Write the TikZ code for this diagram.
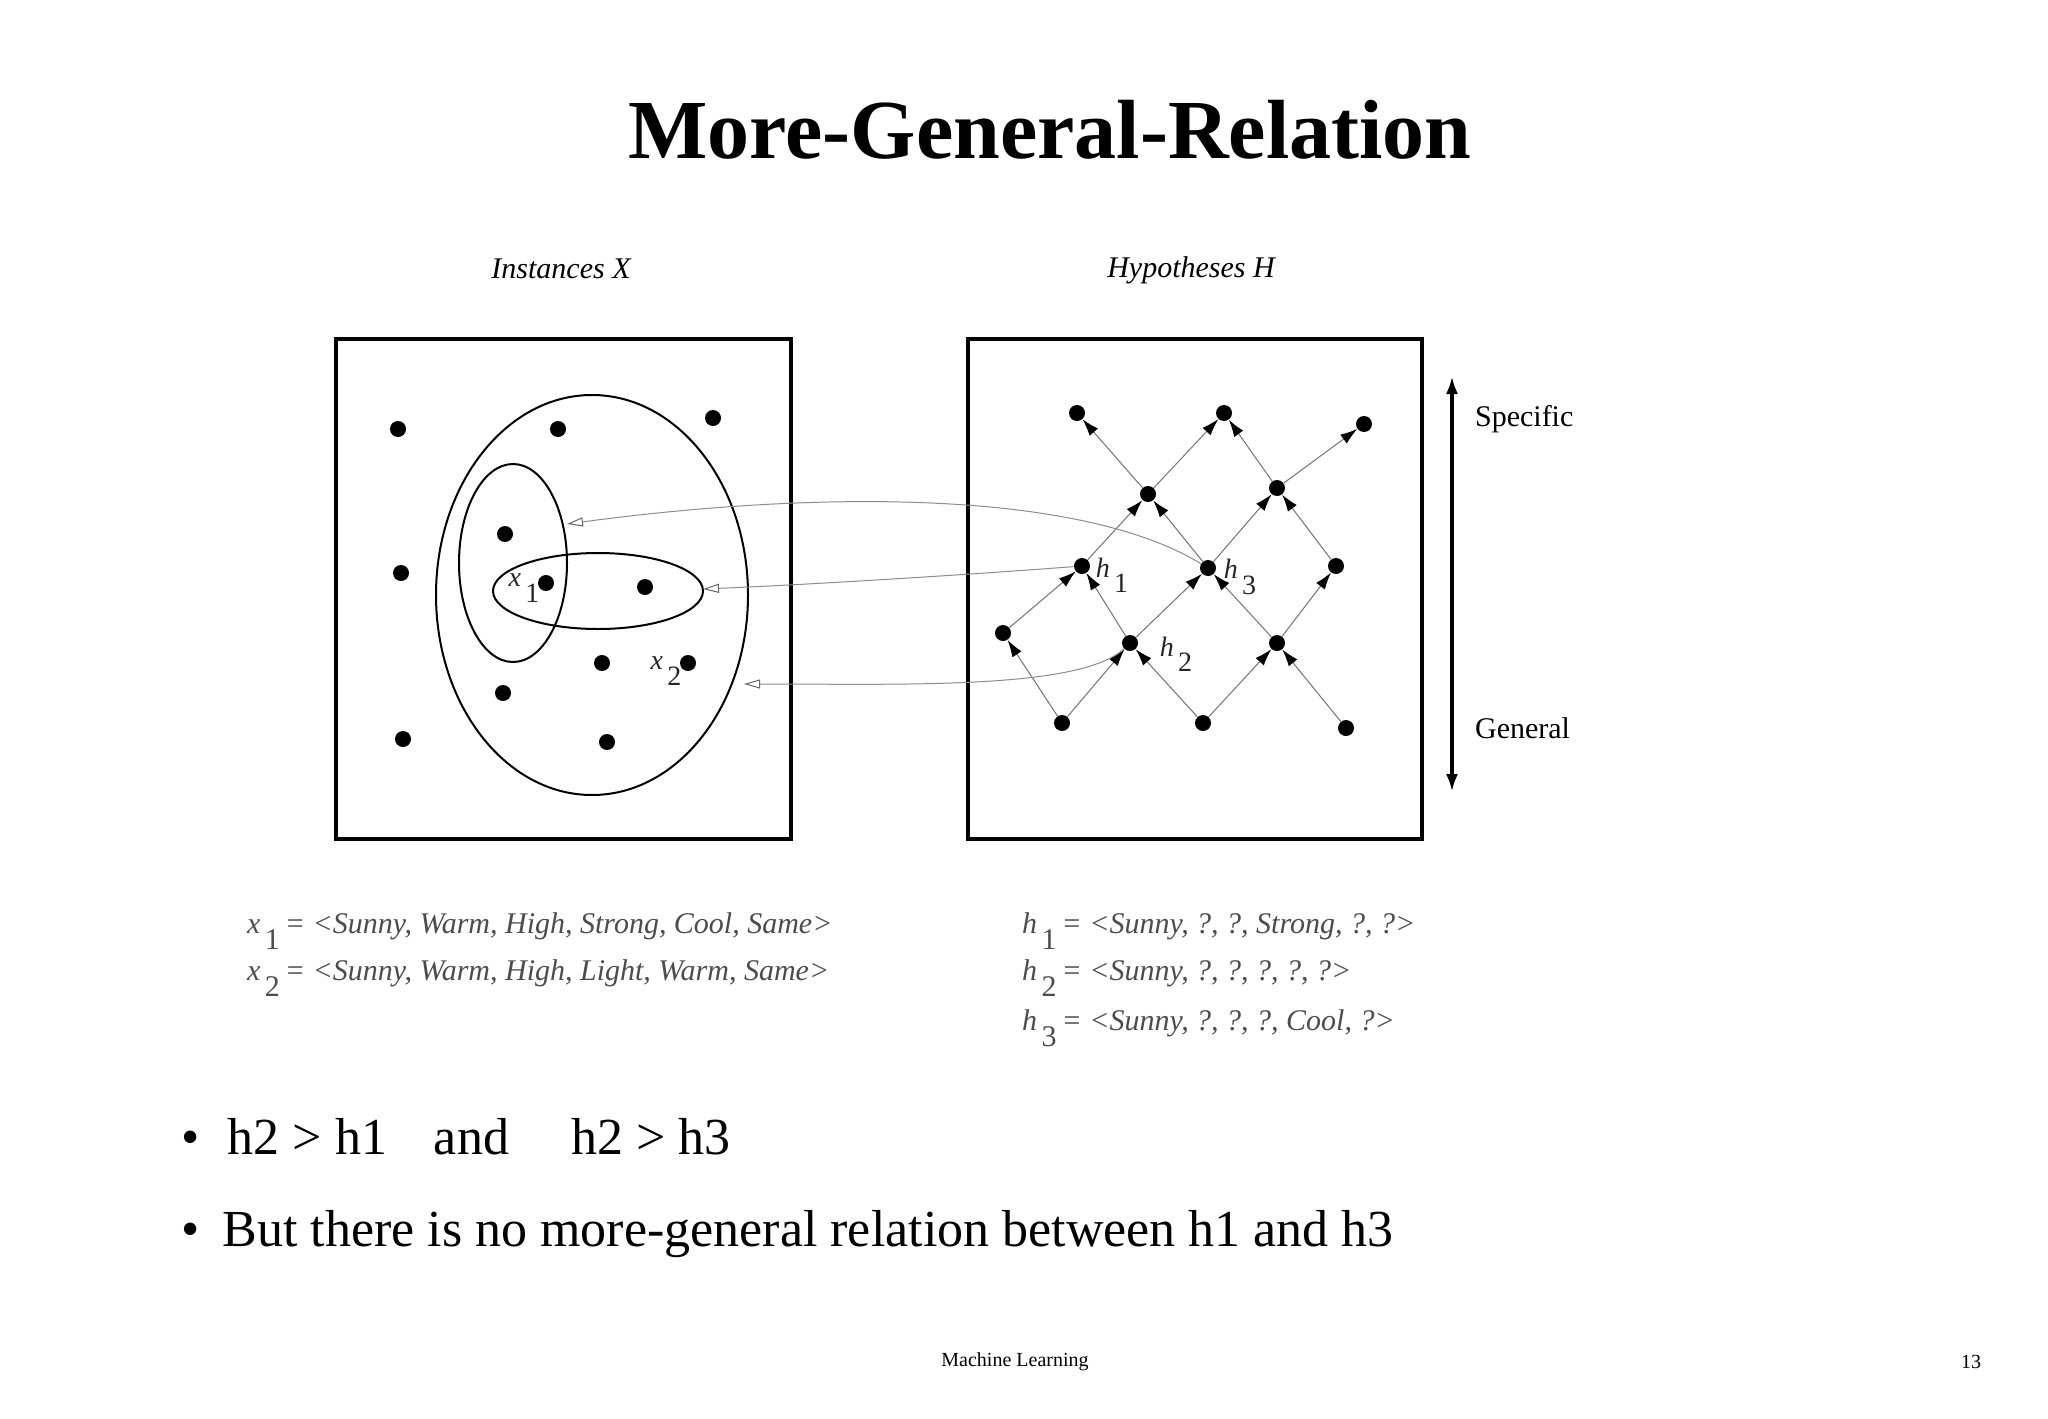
\documentclass[tikz,border=0pt]{standalone}
\usepackage{fontspec}
\setmainfont{Liberation Serif}
\usetikzlibrary{arrows.meta}
\newcommand{\subl}[2]{\textit{#1}\hspace{0.15em}\raisebox{-0.55em}{\upshape #2}}
\begin{document}
\begin{tikzpicture}[x=0.5pt,y=-0.5pt,
  dot/.style={circle,fill=black,inner sep=0pt,minimum size=8pt},
  hdot/.style={circle,fill=black,inner sep=0pt,minimum size=8pt},
  lat/.style={draw=black!55,line width=0.5pt,-{Latex[length=8.5pt,width=5.5pt,black]}},
  link/.style={draw=black!45,line width=0.5pt,-{Triangle[open,length=8pt,width=4.5pt,black!60]}},
  frame/.style={draw,line width=1.6pt},
  ell/.style={draw,line width=1pt},
  lab/.style={font=\fontsize{14}{16}\selectfont,text=black!85},
  formula/.style={anchor=west,text=black!70,font=\fontsize{15}{17}\selectfont\itshape},
  bullet/.style={anchor=west,font=\fontsize{26}{30}\selectfont}]
\useasboundingbox[fill=white] (0,0) rectangle (2048,1418);
\node (title) at (1050,130) {\fontsize{42}{50}\selectfont\bfseries More-General-Relation};
\node (ix) at (561,269) {\fontsize{15}{18}\selectfont\itshape Instances X};
\node (hy) at (1191,270) {\fontsize{15}{18}\selectfont\itshape Hypotheses H};
\draw[frame] (336,339) rectangle (791,839);
\draw[frame] (968,339) rectangle (1422,839);
% instances
\foreach \n/\x/\y in {a/398/429,b/558/429,c/713/418,d/401/573,e/505/534,x1/546/583,f/645/587,g/602/663,x2/688/663,h/503/693,i/403/739,j/607/742}
  \node[dot] (i\n) at (\x,\y) {};
\draw[ell] (592,595) ellipse [x radius=156,y radius=200];
\draw[ell] (513,563) ellipse [x radius=54,y radius=99];
\draw[ell] (598,591) ellipse [x radius=105,y radius=38];
\node[lab] (lx1) at (524,588) {\subl{x}{1}};
\node[lab] (lx2) at (666,671) {\subl{x}{2}};
\coordinate (evert) at (567,524);
\coordinate (ehor) at (703,589);
\coordinate (ebig) at (744,684);
% hypotheses
\foreach \n/\x/\y in {T1/1077/413,T2/1224/413,T3/1364/424,M1/1148/494,M2/1277/488,h1/1082/566,h3/1208/568,R/1336/566,L/1003/633,h2/1130/643,R2/1277/643,B1/1062/723,B2/1203/723,B3/1346/728}
  \node[hdot] (\n) at (\x,\y) {};
\foreach \a/\b in {M1/T1,M1/T2,M2/T2,M2/T3,h1/M1,h3/M1,h3/M2,R/M2,L/h1,h2/h1,h2/h3,R2/h3,R2/R,B1/L,B1/h2,B2/h2,B2/R2,B3/R2}
  \draw[lat] (\a) -- (\b);
\node[lab] (lh1) at (1112,575) {\subl{h}{1}};
\node[lab] (lh3) at (1240,577) {\subl{h}{3}};
\node[lab] (lh2) at (1176,654) {\subl{h}{2}};
\draw[link] (h3) .. controls (1080,490) and (820,490) .. (evert);
\draw[link] (h1) .. controls (950,576) and (800,585) .. (ehor);
\draw[link] (h2) .. controls (1080,690) and (900,684) .. (ebig);
% specific/general
\coordinate (sgt) at (1452,376);
\coordinate (sgb) at (1452,792);
\draw[line width=2pt,{Latex[length=9pt,width=6pt]}-{Latex[length=9pt,width=6pt]}] (sgt) -- (sgb);
\node[anchor=west] (spec) at (1468,419) {\fontsize{15}{17}\selectfont Specific};
\node[anchor=west] (gen) at (1468,728) {\fontsize{15}{17}\selectfont General};
% formulas
\node[formula] (fx1) at (240,931) {\subl{x}{1}\,= <Sunny, Warm, High, Strong, Cool, Same>};
\node[formula] (fx2) at (240,978) {\subl{x}{2}\,= <Sunny, Warm, High, Light, Warm, Same>};
\node[formula] (fh1) at (1015,931) {\subl{h}{1}\,= <Sunny, ?, ?, Strong, ?, ?>};
\node[formula] (fh2) at (1015,978) {\subl{h}{2}\,= <Sunny, ?, ?, ?, ?, ?>};
\node[formula] (fh3) at (1015,1028) {\subl{h}{3}\,= <Sunny, ?, ?, ?, Cool, ?>};
% bullets
\node[bullet] (b1) at (174,1137) {•\hspace{0.55em}h2 > h1\hspace{0.9em}and\hspace{1.2em}h2 > h3};
\node[bullet] (b2) at (174,1234) {•\hspace{0.45em}But there is no more-general relation between h1 and h3};
\node (foot) at (1015,1362) {\fontsize{10}{12}\selectfont Machine Learning};
\node (pg) at (1971,1362) {\fontsize{10}{12}\selectfont 13};
\end{tikzpicture}
\end{document}
